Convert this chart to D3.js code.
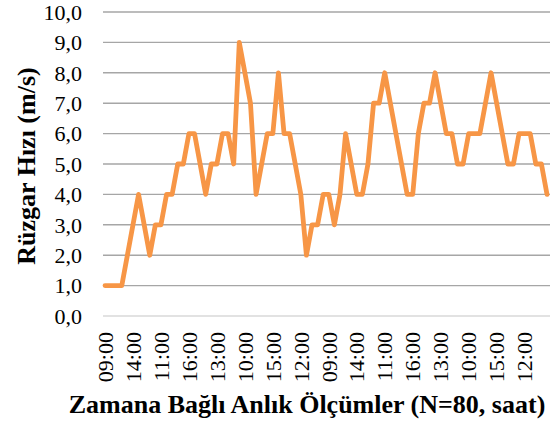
<!DOCTYPE html>
<html><head><meta charset="utf-8">
<script src="https://cdn.jsdelivr.net/npm/d3@7"></script>
<style>body{margin:0;background:#fff}svg{display:block}svg text{font-family:"Liberation Serif","Times New Roman",serif !important}</style>
</head><body><svg id="c" width="559" height="427"></svg>
<script>
const categories = [
"09:00","10:00","11:00","12:00","13:00","14:00","15:00","16:00",
"09:00","10:00","11:00","12:00","13:00","14:00","15:00","16:00",
"09:00","10:00","11:00","12:00","13:00","14:00","15:00","16:00",
"09:00","10:00","11:00","12:00","13:00","14:00","15:00","16:00",
"09:00","10:00","11:00","12:00","13:00","14:00","15:00","16:00",
"09:00","10:00","11:00","12:00","13:00","14:00","15:00","16:00",
"09:00","10:00","11:00","12:00","13:00","14:00","15:00","16:00",
"09:00","10:00","11:00","12:00","13:00","14:00","15:00","16:00",
"09:00","10:00","11:00","12:00","13:00","14:00","15:00","16:00",
"09:00","10:00","11:00","12:00","13:00","14:00","15:00","16:00"];
const windSpeed = [1,1,1,1,2,3,4,3,2,3, 3,4,4,5,5,6,6,5,4,5, 5,6,6,5,9,8,7,4,5,6,
 6,8,6,6,5,4,2,3,3,4, 4,3,4,6,5,4,4,5,7,7, 8,7,6,5,4,4,6,7,7,8,
 7,6,6,5,5,6,6,6,7,8, 7,6,5,5,6,6,6,5,5,4];
const yTicks = [0,1,2,3,4,5,6,7,8,9,10];
const yTitle = "Rüzgar Hızı (m/s)";
const xTitle = "Zamana Bağlı Anlık Ölçümler (N=80, saat)";

const FONT = "Liberation Serif";
const svg = d3.select("#c");
const x = d3.scaleLinear().domain([0, windSpeed.length-1]).range([105, 547]);
const y = d3.scaleLinear().domain([0, 10]).range([316, 12]);
const fmt = v => d3.format(".1f")(v).replace(".", ",");

svg.append("g").selectAll("line").data(yTicks).join("line")
  .attr("x1", 103).attr("x2", 550)
  .attr("y1", d => y(d)).attr("y2", d => y(d))
  .attr("stroke", d => d === 0 ? "#d9d9d9" : "#a6a6a6").attr("stroke-width", 1.4);

svg.append("g").selectAll("text").data(yTicks).join("text")
  .attr("x", 82).attr("y", d => y(d)).attr("dy", "0.35em")
  .attr("font-family", FONT).style("font-family", FONT, "important").attr("fill", "#000")
  .attr("text-anchor", "end").attr("font-size", 22).text(fmt);

const idx = d3.range(0, categories.length, 5);
svg.append("g").selectAll("text").data(idx).join("text")
  .attr("transform", i => `translate(${x(i)},332) rotate(-90)`)
  .attr("font-family", FONT).style("font-family", FONT, "important").attr("fill", "#000")
  .attr("dy", "0.35em").attr("text-anchor", "end").attr("font-size", 22)
  .text(i => categories[i]);

svg.append("path").datum(windSpeed)
  .attr("fill", "none").attr("stroke", "#F79646").attr("stroke-width", 4.8)
  .attr("stroke-linejoin", "round").attr("stroke-linecap", "round")
  .attr("d", d3.line().x((d, i) => x(i)).y(d => y(d)));

svg.append("text").attr("transform", "translate(35,166) rotate(-90)")
  .attr("font-family", FONT).style("font-family", FONT, "important").attr("fill", "#000")
  .attr("text-anchor", "middle").attr("font-size", 26).attr("font-weight", "bold").text(yTitle);
svg.append("text").attr("x", 307).attr("y", 413)
  .attr("font-family", FONT).style("font-family", FONT, "important").attr("fill", "#000")
  .attr("text-anchor", "middle").attr("font-size", 26).attr("font-weight", "bold").text(xTitle);
</script></body></html>
